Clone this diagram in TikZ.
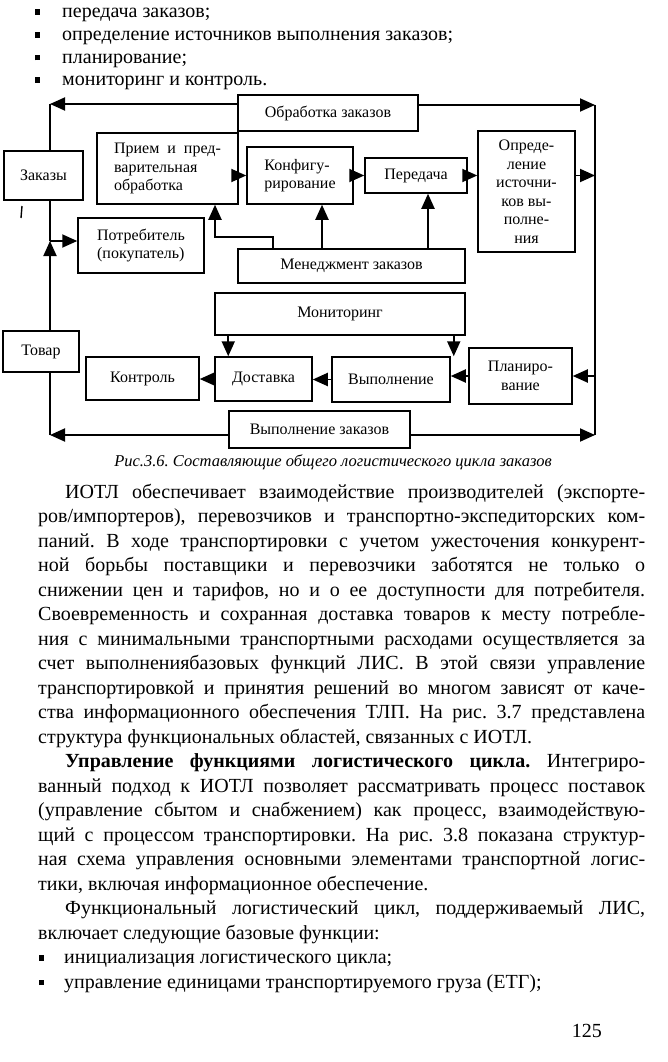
\documentclass[tikz,border=0pt]{standalone}
\usepackage{fontspec}
\setmainfont{Liberation Serif}
\usetikzlibrary{arrows.meta,positioning,calc}
\frenchspacing

\newlength{\bodyw}
\setlength{\bodyw}{607pt}
\newcommand{\jline}[1]{\makebox[\bodyw][s]{#1}}
\newcommand{\sqb}{\rule[3pt]{5pt}{5.5pt}}
\newcommand{\bodyfont}{\fontsize{20}{24.5}\selectfont}
\newcommand{\diafont}{\fontsize{16}{18.5}\selectfont}

\begin{document}
\begin{tikzpicture}[
            x=1pt, y=-1pt,
            box/.style={
                    rectangle,
                    draw,
                    line width=1.5pt,
                    inner sep=1pt,
                    align=center,
                    font=\diafont
                },
            arr/.style={
                    -{Triangle[length=15pt,width=13pt]},
                    line width=1.9pt
                },
            wire/.style={
                    line width=1.9pt
                },
            txt/.style={
                    anchor=base west,
                    inner sep=0pt,
                    align=left,
                    font=\bodyfont
                }
        ]
        \path[fill=white] (0,0) rectangle (668,1062);
        \useasboundingbox (0,0) rectangle (668,1062);

        % Список сверху
        \node[txt] (it1) at (35,18) {\makebox[27pt][l]{\sqb}передача заказов;};
        \node[txt] (it2) at (35,40.7) {\makebox[27pt][l]{\sqb}определение источников выполнения заказов;};
        \node[txt] (it3) at (35,63.3) {\makebox[27pt][l]{\sqb}планирование;};
        \node[txt] (it4) at (35,86) {\makebox[27pt][l]{\sqb}мониторинг и контроль.};

        % Блоки схемы
        \node[box, minimum width=180pt, minimum height=36pt] (obr) at (328,113) {Обработка заказов};
        \node[box, minimum width=79pt, minimum height=49pt] (zak) at (43.5,175.5) {Заказы};
        \node[box, minimum width=141pt, minimum height=71pt, align=left] (priem) at (167.5,168.5) {Прием\ \ и\ \ пред-\\варительная\\обработка};
        \node[box, minimum width=106pt, minimum height=57pt, align=left] (konf) at (300,175.5) {Конфигу-\\рирование};
        \node[box, minimum width=102pt, minimum height=35pt] (pered) at (416,175.5) {Передача};
        \node[box, minimum width=97pt, minimum height=121pt] (opr) at (526.5,191.5) {Опреде-\\ление\\источни-\\ков вы-\\полне-\\ния};
        \node[box, minimum width=126pt, minimum height=55pt, align=left] (potr) at (141,245.5) {Потребитель\\(покупатель)};
        \node[box, minimum width=227pt, minimum height=34pt] (men) at (351.5,266) {Менеджмент заказов};
        \node[box, minimum width=250pt, minimum height=42pt] (mon) at (340,314) {Мониторинг};
        \node[box, minimum width=76pt, minimum height=41pt] (tov) at (41,351.5) {Товар};
        \node[box, minimum width=113pt, minimum height=43pt] (kontr) at (142.5,378.5) {Контроль};
        \node[box, minimum width=97pt, minimum height=44pt] (dost) at (263.5,379) {Доставка};
        \node[box, minimum width=118pt, minimum height=45pt] (vyp) at (391,379.5) {Выполнение};
        \node[box, minimum width=103pt, minimum height=56pt] (plan) at (520.5,376) {Планиро-\\вание};
        \node[box, minimum width=181pt, minimum height=37pt] (vypz) at (319.5,429.5) {Выполнение заказов};

        % Углы и развилки
        \coordinate (tl) at (50,104);
        \coordinate (tr) at (595,105);
        \coordinate (bl) at (50,435);
        \coordinate (br) at (595,435);
        \coordinate (lj) at (50,241);
        \coordinate (m1) at (273,237);
        \coordinate (m2) at (215,237);

        % Внешний контур
        \draw[arr] (obr.west |- tl) -- (tl);
        \draw[wire] (tl) -- (zak.north -| tl);
        \draw[arr] (obr.east |- tr) -- (tr);
        \draw[wire] (tr) -- (br);
        \draw[arr] (vypz.west |- bl) -- (bl);
        \draw[wire] (bl) -- (tov.south -| bl);
        \draw[arr] (vypz.east |- br) -- (br);
        \draw[arr] (tov.north -| lj) -- (lj);
        \draw[wire] (lj) -- (zak.south -| lj);
        \draw[arr] (lj) -- (potr.west |- lj);
        \draw[line width=1.4pt] (22,206) -- (21,218);

        % Обработка заказов
        \draw[arr] (priem.east |- konf.east) -- (konf.west);
        \draw[arr] (konf.east) -- (pered.west);
        \draw[arr] (pered.east) -- (opr.west |- pered.east);
        \draw[arr] (opr.east |- pered.east) -- (tr |- pered.east);
        \draw[arr] (men.north -| m1) -- (m1) -- (m2) -- (priem.south -| m2);
        \draw[arr] ([xshift=22pt]konf.south |- men.north) -- ([xshift=22pt]konf.south);
        \draw[arr] ([xshift=12pt]pered.south |- men.north) -- ([xshift=12pt]pered.south);

        % Выполнение заказов
        \draw[arr] (tr |- plan.east) -- (plan.east);
        \draw[arr] (plan.west) -- (vyp.east |- plan.west);
        \draw[arr] (vyp.west) -- (dost.east |- vyp.west);
        \draw[arr] (dost.west) -- (kontr.east |- dost.west);
        \draw[arr] ([xshift=14pt]mon.south west) -- ([xshift=14pt]dost.north west);
        \draw[arr] ([xshift=-12pt]mon.south east) -- ([xshift=-12pt]mon.south east |- vyp.north);

        % Подпись
        \node[anchor=base, inner sep=0pt, font=\fontsize{16.5}{20}\selectfont\itshape] (cap) at (333,466) {Рис.3.6. Составляющие общего логистического цикла заказов};

        % Текст (якорь -- базовая линия последней строки)
        \node[txt] (p1) at (38,743) {%
            \jline{\hspace*{27pt}ИОТЛ обеспечивает взаимодействие производителей (экспорте-}\\
            \jline{ров/импортеров), перевозчиков и транспортно-экспедиторских ком-}\\
            \jline{паний. В ходе транспортировки с учетом ужесточения конкурент-}\\
            \jline{ной борьбы поставщики и перевозчики заботятся не только о}\\
            \jline{снижении цен и тарифов, но и о ее доступности для потребителя.}\\
            \jline{Своевременность и сохранная доставка товаров к месту потребле-}\\
            \jline{ния с минимальными транспортными расходами осуществляется за}\\
            \jline{счет выполнениябазовых функций ЛИС. В этой связи управление}\\
            \jline{транспортировкой и принятия решений во многом зависят от каче-}\\
            \jline{ства информационного обеспечения ТЛП. На рис. 3.7 представлена}\\
            структура функциональных областей, связанных с ИОТЛ.};
        \node[txt] (p2) at (38,890) {%
            \jline{\hspace*{27pt}\textbf{Управление функциями логистического цикла.} Интегриро-}\\
            \jline{ванный подход к ИОТЛ позволяет рассматривать процесс поставок}\\
            \jline{(управление сбытом и снабжением) как процесс, взаимодействую-}\\
            \jline{щий с процессом транспортировки. На рис. 3.8 показана структур-}\\
            \jline{ная схема управления основными элементами транспортной логис-}\\
            тики, включая информационное обеспечение.};
        \node[txt] (p3) at (38,939) {%
            \jline{\hspace*{27pt}Функциональный логистический цикл, поддерживаемый ЛИС,}\\
            включает следующие базовые функции:};
        \node[txt] (it5) at (39,963.5) {\makebox[25pt][l]{\sqb}инициализация логистического цикла;};
        \node[txt] (it6) at (39,988) {\makebox[25pt][l]{\sqb}управление единицами транспортируемого груза (ЕТГ);};
        \node[anchor=base east, inner sep=0pt, font=\bodyfont] (pg) at (602,1037) {125};

    \end{tikzpicture}
\end{document}
